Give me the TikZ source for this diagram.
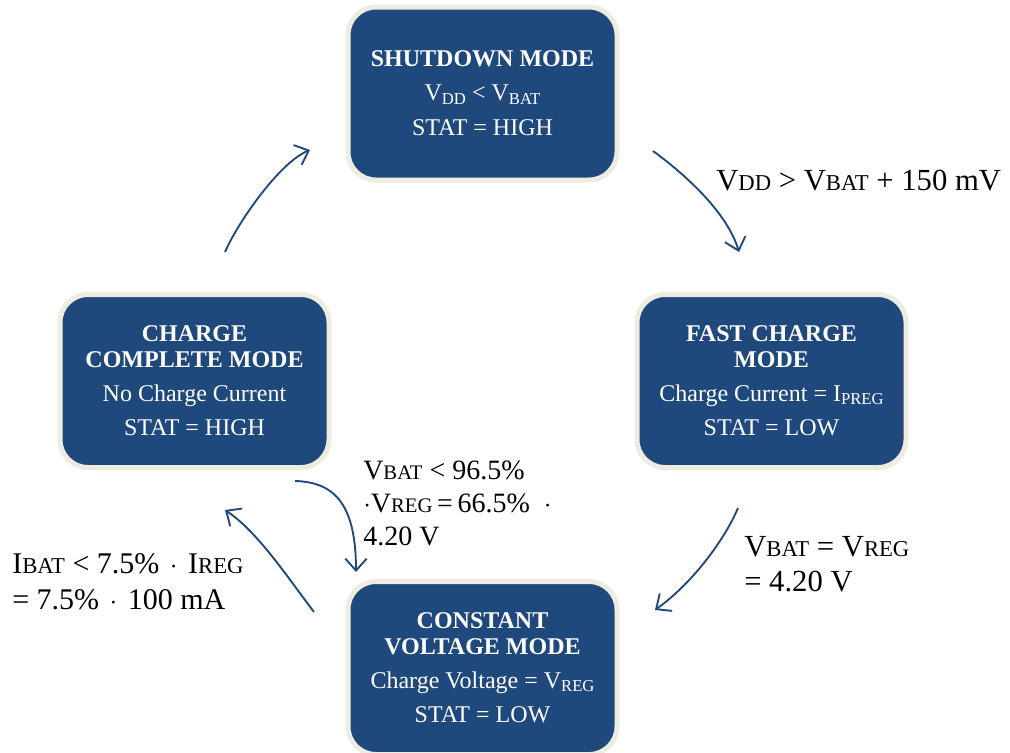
\documentclass[tikz,border=0pt]{standalone}
\usepackage{fontspec}
\setmainfont{Liberation Serif}
\usetikzlibrary{arrows.meta}
\definecolor{boxblue}{RGB}{31,73,125}
\definecolor{cream}{RGB}{238,236,225}
\definecolor{arrowblue}{RGB}{31,73,125}
\newcommand\insub[1]{\raisebox{-0.35ex}{\fontsize{12.5}{12.5}\selectfont #1}}
\newcommand\lsub[1]{{\fontsize{17}{17}\selectfont #1}}
\newcommand\ssub[1]{{\fontsize{15.5}{15.5}\selectfont #1}}
\newcommand\btitle[1]{\textbf{#1}}
\newcommand\sdot{\hspace{0.35em}$\cdot$\hspace{0.35em}}
\newcommand\lines[1]{\begin{tabular}[t]{@{}l@{}}#1\end{tabular}}
\tikzset{
  modebox/.style={draw=cream, fill=boxblue, line width=3.75pt, rounded corners=21pt,
    minimum width=201.75pt, minimum height=129.75pt, inner sep=0pt, text=white,
    align=center, font=\fontsize{18}{19}\selectfont},
  trans/.style={draw=arrowblue, line width=1.4pt, -{Straight Barb[length=9pt,width=16pt,line width=1.4pt]}},
  lab/.style={anchor=base west, inner sep=0pt, font=\fontsize{23}{26.5}\selectfont},
  smalllab/.style={lab, font=\fontsize{21}{25}\selectfont},
  leftlab/.style={lab, font=\fontsize{22.5}{27}\selectfont}
}
\begin{document}
\begin{tikzpicture}[x=0.75pt,y=-0.75pt]
\useasboundingbox (0,0) rectangle (1010,753);
\node[modebox] (sd) at (482.5,93.5) {\btitle{SHUTDOWN MODE}\\[6.5pt] V\insub{DD} {<} V\insub{BAT}\\[7pt] STAT = HIGH};
\node[modebox] (fc) at (771.5,381) {\btitle{FAST CHARGE}\\ \btitle{MODE}\\[6.5pt] Charge Current = I\insub{PREG}\\[7pt] STAT = LOW};
\node[modebox] (cc) at (194.5,381) {\btitle{CHARGE}\\ \btitle{COMPLETE MODE}\\[6.5pt] No Charge Current\\[7pt] STAT = HIGH};
\node[modebox] (cv) at (482.5,668) {\btitle{CONSTANT}\\ \btitle{VOLTAGE MODE}\\[6.5pt] Charge Voltage = V\insub{REG}\\[7pt] STAT = LOW};

\node[lab] (l1) at (716,190) {V\lsub{DD} > V\lsub{BAT} + 150 mV};
\node[lab] (l2) at (744,556) {\lines{V\lsub{BAT} = V\lsub{REG}\\ = 4.20 V}};
\node[smalllab] (l3) at (363,479) {\lines{V\ssub{BAT} < 96.5\%\\ $\cdot$V\ssub{REG}\,=\,66.5\%\hspace{0.5em}$\cdot$\\ 4.20 V}};
\node[leftlab] (l4) at (12,573) {\lines{I\lsub{BAT} < 7.5\%\sdot I\lsub{REG}\\ = 7.5\%\sdot 100 mA}};

\coordinate (s1) at (653,151); \coordinate (e1) at (739,252);
\coordinate (s2) at (738,508); \coordinate (e2) at (655,610);
\coordinate (s3) at (314,612); \coordinate (e3) at (225,510);
\coordinate (s4) at (225,252); \coordinate (e4) at (310,150);
\coordinate (s5) at (295,481); \coordinate (e5) at (356,572);
\draw[trans] (s1) .. controls (690,178) and (728,215) .. (e1);
\draw[trans] (s2) .. controls (723,543) and (690,585) .. (e2);
\draw[trans] (s3) .. controls (288,578) and (258,532) .. (e3);
\draw[trans] (s4) .. controls (238,222) and (280,162) .. (e4);
\draw[trans] (s5) .. controls (335,482) and (356,505) .. (e5);
\end{tikzpicture}
\end{document}
